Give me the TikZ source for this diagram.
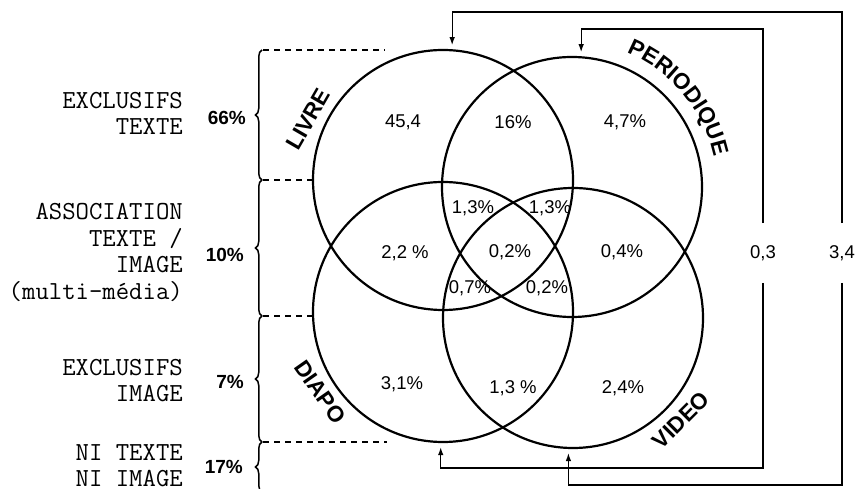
\documentclass[tikz,border=0pt]{standalone}
\usepackage{fontspec}
\newfontfamily\labsans{Liberation Sans}
\usetikzlibrary{arrows.meta,decorations.pathreplacing,decorations.text}
\begin{document}
\begin{tikzpicture}[x=1pt,y=1pt,
  venn/.style={circle, draw, line width=2.2pt, minimum size=260pt, inner sep=0pt},
  pct/.style={font=\labsans\fontsize{18.5}{18.5}\selectfont, inner sep=1pt},
  side/.style={font=\labsans\bfseries\fontsize{19}{19}\selectfont, anchor=east, inner sep=0pt},
  cat/.style={font=\ttfamily\fontsize{26}{26.5}\selectfont, align=right, anchor=east, inner sep=0pt},
  setname/.style={font=\labsans\bfseries\fontsize{22.5}{22.5}\selectfont, inner sep=0pt},
  conn/.style={line width=1.3pt, -{Latex[length=8pt,width=5.5pt]}, shorten >=4pt},
  guide/.style={line width=1.3pt, dash pattern=on 6pt off 5pt},
  bracket/.style={line width=1.5pt, decorate, decoration={brace, amplitude=6.5pt}},
  gapnode/.style={pct, inner ysep=22pt}
]
\useasboundingbox (0,0) rectangle (856,489);

% circles
\node[venn] (L) at (443,309) {};
\node[venn] (P) at (572,302) {};
\node[venn] (D) at (443,177) {};
\node[venn] (V) at (573,171) {};

% set names
\node[setname, rotate=60] (nL) at (308,370) {LIVRE};
\path[decorate, decoration={text along path,
  text={|\labsans\bfseries\fontsize{22.5}{22.5}\selectfont|PERIODIQUE}, text align=center}]
  (P.center) ++(72:145) arc[start angle=72, end angle=8, radius=145];
\node[setname, rotate=-55] (nD) at (320,97) {DIAPO};
\node[setname, rotate=45] (nV) at (681,69) {VIDEO};

% region values
\node[pct] (r1) at (403,367) {45,4};
\node[pct] (r2) at (513,367) {16\%};
\node[pct] (r3) at (625,367) {4,7\%};
\node[pct] (r4) at (473,281) {1,3\%};
\node[pct] (r5) at (550,281) {1,3\%};
\node[pct] (r6) at (405,236) {2,2 \%};
\node[pct] (r7) at (510,237) {0,2\%};
\node[pct] (r8) at (622,237) {0,4\%};
\node[pct] (r9) at (470,201) {0,7\%};
\node[pct] (r10) at (547,201) {0,2\%};
\node[pct] (r11) at (402,105) {3,1\%};
\node[pct] (r12) at (513,101) {1,3 \%};
\node[pct] (r13) at (623,101) {2,4\%};

% outside values and loops
\node[gapnode] (t03) at (763,236) {0,3};
\node[gapnode] (t34) at (842,236) {3,4};
\coordinate (topA) at (0,477);
\coordinate (topB) at (0,460);
\coordinate (botA) at (0,4);
\coordinate (botB) at (0,21);
\draw[conn] (t34.north) |- (topA -| L.86) -- (L.86);
\draw[conn] (t34.south) |- (botA -| V.268) -- (V.268);
\draw[conn] (t03.north) |- (topB -| P.86) -- (P.86);
\draw[conn] (t03.south) |- (botB -| D.269) -- (D.269);

% left side categories
\node[cat] (c1) at (183,375.5) {EXCLUSIFS\\TEXTE};
\node[cat] (c2) at (183,236.5) {ASSOCIATION\\TEXTE /\\IMAGE\\(multi-média)};
\node[cat] (c3) at (183,108.5) {EXCLUSIFS\\IMAGE};
\node[cat] (c4) at (183,23.5) {NI TEXTE\\NI IMAGE};

\node[side] (s1) at (246,371) {66\%};
\node[side] (s2) at (244,234) {10\%};
\node[side] (s3) at (244,107) {7\%};
\node[side] (s4) at (243,22) {17\%};

% braces
\draw[bracket] (262,309) -- (262,439);
\draw[bracket] (262,173) -- (262,309);
\draw[bracket] (262,47) -- (262,173);
\draw[bracket] (262,-3) -- (262,47);

% dashed guides
\draw[guide] (263,439) -- (385,439);
\draw[guide] (263,309) -- (L.west);
\draw[guide] (263,173) -- (313,173);
\draw[guide] (263,47) -- (387,47);
\end{tikzpicture}
\end{document}
